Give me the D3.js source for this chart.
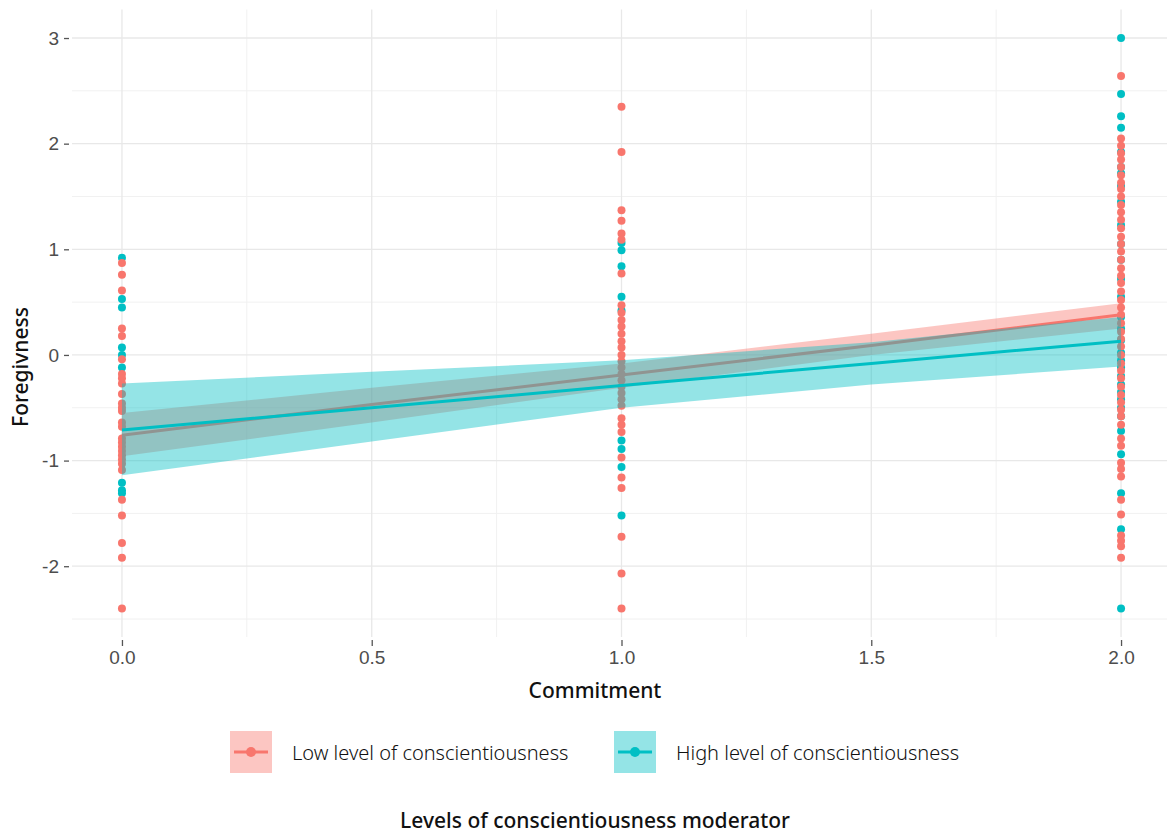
<!DOCTYPE html>
<html>
<head>
<meta charset="utf-8">
<script src="https://cdn.jsdelivr.net/npm/d3@7"></script>
<style>
  body { margin: 0; background: #fff; }
  svg { display: block; }
  .axis-title { font-family: "Noto Sans", sans-serif; font-size: 21px; font-weight: 500; fill: #111; }
  .legend-label { font-family: "Noto Sans", sans-serif; font-size: 20px; font-weight: 300; fill: #111; }
</style>
</head>
<body>
<div id="chart"></div>
<script>
// Groups
const groups = [
  { key: 'low', label: 'Low level of conscientiousness', color: '#F8766D' },
  { key: 'high', label: 'High level of conscientiousness', color: '#00BFC4' },
];

// Observed points, by commitment level (0, 1, 2)
const lowAt0 = [0.87, 0.76, 0.61, 0.25, 0.18, -0.04, -0.18, -0.22, -0.27, -0.37, -0.46, -0.50, -0.53,
  -0.64, -0.68, -0.79, -0.83, -0.87, -0.91, -0.95, -0.99, -1.03, -1.09, -1.37, -1.52, -1.78, -1.92, -2.40];
const highAt0 = [0.92, 0.53, 0.45, 0.07, 0.00, -0.12, -1.21, -1.28, -1.31];
const lowAt1 = [2.35, 1.92, 1.37, 1.27, 1.15, 1.09, 0.77, 0.47, 0.40, 0.33, 0.27, 0.20, 0.13, 0.07, 0.00,
  -0.06, -0.12, -0.18, -0.24, -0.30, -0.36, -0.42, -0.48, -0.60, -0.66, -0.73, -0.97, -1.16, -1.26,
  -1.72, -2.07, -2.40];
const highAt1 = [1.06, 0.99, 0.84, 0.55, 0.42, -0.81, -0.89, -1.06, -1.52];
const lowAt2 = [2.64, 2.05, 1.98, 1.91, 1.85, 1.78, 1.70, 1.63, 1.57, 1.50, 1.42, 1.35, 1.28, 1.20, 1.12,
  1.05, 0.98, 0.90, 0.82, 0.75, 0.68, 0.60, 0.52, 0.45, 0.38, 0.30, 0.22, 0.15, 0.08, 0.00, -0.08,
  -0.15, -0.22, -0.30, -0.38, -0.45, -0.52, -0.58, -0.66, -0.79, -0.86, -1.02, -1.08, -1.15, -1.37,
  -1.51, -1.71, -1.76, -1.81, -1.92];
const highAt2 = [3.00, 2.47, 2.26, 2.15, 1.92, 1.78, 1.72, 1.60, 1.45, 1.23, 1.05, 0.90, 0.72, 0.55,
  0.36, 0.25, 0.14, 0.02, -0.05, -0.12, -0.20, -0.28, -0.35, -0.42, -0.50, -0.58, -0.72, -0.94,
  -1.31, -1.65, -2.40];

// Fitted lines and confidence bands, read at these commitment values
const fitX = [0, 0.5, 1, 1.5, 2];
const lowFit = [-0.76, -0.47, -0.19, 0.09, 0.38];
const lowLower = [-0.96, -0.64, -0.31, 0.00, 0.25];
const lowUpper = [-0.55, -0.31, -0.08, 0.20, 0.49];
const highFit = [-0.71, -0.50, -0.29, -0.08, 0.13];
const highLower = [-1.14, -0.82, -0.50, -0.28, -0.11];
const highUpper = [-0.27, -0.16, -0.05, 0.12, 0.36];

// Tick labels
const xTicks = [0, 0.5, 1, 1.5, 2];
const xMinor = [0.25, 0.75, 1.25, 1.75];
const yTicks = [-2, -1, 0, 1, 2, 3];
const yMinor = [-2.5, -1.5, -0.5, 0.5, 1.5, 2.5];

const width = 1167;
const height = 834;

const svg = d3.select('#chart')
  .append('svg')
    .attr('width', width)
    .attr('height', height);

const x = d3.scaleLinear()
  .domain([-0.1, 2.1])
  .range([72, 1171]);

const y = d3.scaleLinear()
  .domain([-2.67, 3.27])
  .range([637, 9.5]);

// Grid
const grid = svg.append('g');
grid.selectAll('.minor-x')
  .data(xMinor)
  .join('line')
    .attr('x1', d => x(d)).attr('x2', d => x(d))
    .attr('y1', y.range()[0]).attr('y2', y.range()[1])
    .attr('stroke', '#f1f1f1').attr('stroke-width', 1);
grid.selectAll('.minor-y')
  .data(yMinor)
  .join('line')
    .attr('x1', x.range()[0]).attr('x2', width)
    .attr('y1', d => y(d)).attr('y2', d => y(d))
    .attr('stroke', '#f1f1f1').attr('stroke-width', 1);
grid.selectAll('.major-x')
  .data(xTicks)
  .join('line')
    .attr('x1', d => x(d)).attr('x2', d => x(d))
    .attr('y1', y.range()[0]).attr('y2', y.range()[1])
    .attr('stroke', '#e8e8e8').attr('stroke-width', 1.3);
grid.selectAll('.major-y')
  .data(yTicks)
  .join('line')
    .attr('x1', x.range()[0]).attr('x2', width)
    .attr('y1', d => y(d)).attr('y2', d => y(d))
    .attr('stroke', '#e8e8e8').attr('stroke-width', 1.3);

// Axes: short ticks + gray labels, no domain line
const xAxis = svg.append('g')
  .attr('transform', `translate(0, ${y.range()[0] + 3})`)
  .call(d3.axisBottom(x).tickValues(xTicks).tickFormat(d => d.toFixed(1)).tickSize(6).tickPadding(5));
const yAxis = svg.append('g')
  .attr('transform', `translate(${x.range()[0] - 3}, 0)`)
  .call(d3.axisLeft(y).tickValues(yTicks).tickFormat(d => String(d)).tickSize(5).tickPadding(5));

[xAxis, yAxis].forEach(axis => {
  axis.select('.domain').remove();
  axis
    .attr('font-size', 19)
    .attr('font-family', '"Liberation Sans", Arial, sans-serif');
  axis.selectAll('.tick line').attr('stroke', '#555').attr('stroke-width', 1.3);
  axis.selectAll('.tick text').attr('fill', '#4d4d4d');
});

// Points (under the smooths)
const points = [];
const pointSets = { low: [lowAt0, lowAt1, lowAt2], high: [highAt0, highAt1, highAt2] };
['high', 'low'].forEach(key => {
  pointSets[key].forEach((values, level) => {
    values.forEach(v => points.push({ group: key, x: level, y: v }));
  });
});
const colorOf = key => groups.find(g => g.key === key).color;

svg.append('g')
  .selectAll('circle')
  .data(points)
  .join('circle')
    .attr('cx', d => x(d.x))
    .attr('cy', d => y(d.y))
    .attr('r', 4)
    .attr('fill', d => colorOf(d.group));

// Ribbons and fitted lines
const smooths = [
  { key: 'low', fit: lowFit, lower: lowLower, upper: lowUpper },
  { key: 'high', fit: highFit, lower: highLower, upper: highUpper },
];
const area = d3.area()
  .x(d => x(d.x))
  .y0(d => y(d.lo))
  .y1(d => y(d.hi));
const line = d3.line()
  .x(d => x(d.x))
  .y(d => y(d.y));

smooths.forEach(s => {
  const rows = fitX.map((v, i) => ({ x: v, y: s.fit[i], lo: s.lower[i], hi: s.upper[i] }));
  svg.append('path')
    .datum(rows)
    .attr('d', area)
    .attr('fill', colorOf(s.key))
    .attr('fill-opacity', 0.42);
  svg.append('path')
    .datum(rows)
    .attr('d', line)
    .attr('fill', 'none')
    .attr('stroke', colorOf(s.key))
    .attr('stroke-width', 3);
});

// Axis titles
svg.append('text')
  .attr('class', 'axis-title')
  .attr('x', 595)
  .attr('y', 698)
  .attr('text-anchor', 'middle')
  .text('Commitment');

svg.append('text')
  .attr('class', 'axis-title')
  .attr('transform', 'translate(28, 367) rotate(-90)')
  .attr('text-anchor', 'middle')
  .text('Foregivness');

// Legend
const legendX = [230, 614];
const legend = svg.append('g')
  .selectAll('g')
  .data(groups)
  .join('g')
    .attr('transform', (d, i) => `translate(${legendX[i]}, 731)`);

legend.append('rect')
  .attr('width', 42)
  .attr('height', 42)
  .attr('fill', d => d.color)
  .attr('fill-opacity', 0.42);
legend.append('line')
  .attr('x1', 4).attr('x2', 38)
  .attr('y1', 21).attr('y2', 21)
  .attr('stroke', d => d.color)
  .attr('stroke-width', 3);
legend.append('circle')
  .attr('cx', 21).attr('cy', 21)
  .attr('r', 5)
  .attr('fill', d => d.color);
legend.append('text')
  .attr('class', 'legend-label')
  .attr('x', 62)
  .attr('y', 29)
  .text(d => d.label);

svg.append('text')
  .attr('class', 'axis-title')
  .attr('x', 595)
  .attr('y', 828)
  .attr('text-anchor', 'middle')
  .text('Levels of conscientiousness moderator');
</script>
</body>
</html>
